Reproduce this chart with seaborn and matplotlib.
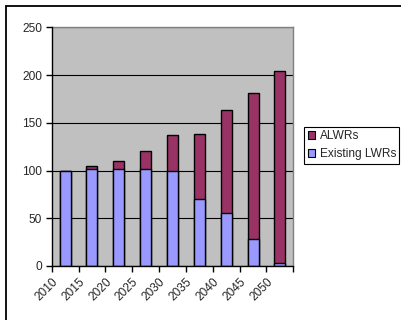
import matplotlib
matplotlib.use("Agg")
import matplotlib.pyplot as plt
import seaborn as sns
import pandas as pd
from matplotlib.patches import Patch
from matplotlib.lines import Line2D

years = ["2010", "2015", "2020", "2025", "2030", "2035", "2040", "2045", "2050"]
existing_lwrs = [100, 102, 102, 102, 100, 70, 56, 28, 3]
alwrs = [0, 3, 8, 18, 37, 68, 107, 153, 201]
y_ticks = [0, 50, 100, 150, 200, 250]

df = pd.DataFrame({"year": years, "existing": existing_lwrs, "alwrs": alwrs})
df["total"] = df["existing"] + df["alwrs"]

sns.set_style("white")
plt.rcParams["font.family"] = ["Liberation Sans", "DejaVu Sans"]

maroon = "#993366"
blue = "#9999FF"
fs = 8.6

fig = plt.figure(figsize=(4.02, 3.2), dpi=100)
ax = fig.add_axes([51.7 / 402, 1 - 266 / 320, (293.3 - 51.7) / 402, (266 - 27.3) / 320])
ax.set_facecolor("#C0C0C0")

sns.barplot(data=df, x="year", y="total", color=maroon, width=0.41,
            edgecolor="black", linewidth=1.0, saturation=1, ax=ax, zorder=3)
sns.barplot(data=df, x="year", y="existing", color=blue, width=0.41,
            edgecolor="black", linewidth=1.0, saturation=1, ax=ax, zorder=4)

ax.set_xlim(-0.5, len(years) - 0.5)
ax.set_ylim(0, 250)
ax.set_yticks(y_ticks)
ax.set_yticklabels([str(v) for v in y_ticks], fontsize=fs)
ax.set_xticks([i - 0.5 for i in range(len(years) + 1)])
ax.set_xticklabels(years + [""], fontsize=fs, rotation=45, ha="right", va="top",
                   rotation_mode="anchor")
ax.set_xlabel("")
ax.set_ylabel("")
ax.tick_params(axis="both", direction="out", length=4, width=1, color="black",
               bottom=True, left=True, pad=3)
ax.grid(axis="y", color="black", linewidth=0.8, zorder=1)
ax.set_axisbelow(True)
for s in ["left", "bottom"]:
    ax.spines[s].set_color("black")
    ax.spines[s].set_linewidth(1)
    ax.spines[s].set_zorder(5)
for s in ["top", "right"]:
    ax.spines[s].set_color("#808080")
    ax.spines[s].set_linewidth(1)

handles = [Patch(facecolor=maroon, edgecolor="black", linewidth=0.8, label="ALWRs"),
           Patch(facecolor=blue, edgecolor="black", linewidth=0.8, label="Existing LWRs")]
leg = fig.legend(handles=handles, loc="upper left",
                 bbox_to_anchor=(304 / 402, 1 - 126.5 / 320),
                 fontsize=fs, frameon=True, fancybox=False, edgecolor="black",
                 framealpha=1, borderaxespad=0, handlelength=0.6, handleheight=0.6,
                 handletextpad=0.4, borderpad=0.3, labelspacing=0.5)
leg.get_frame().set_linewidth(0.8)

top_y = 1 - 5.7 / 320
left_x = 6.5 / 402
fig.add_artist(Line2D([left_x, 1.0], [top_y, top_y], transform=fig.transFigure,
                      color="black", linewidth=1.3))
fig.add_artist(Line2D([left_x, left_x], [0.0, top_y], transform=fig.transFigure,
                      color="black", linewidth=1.3))

fig.savefig("out.png", dpi=100)
